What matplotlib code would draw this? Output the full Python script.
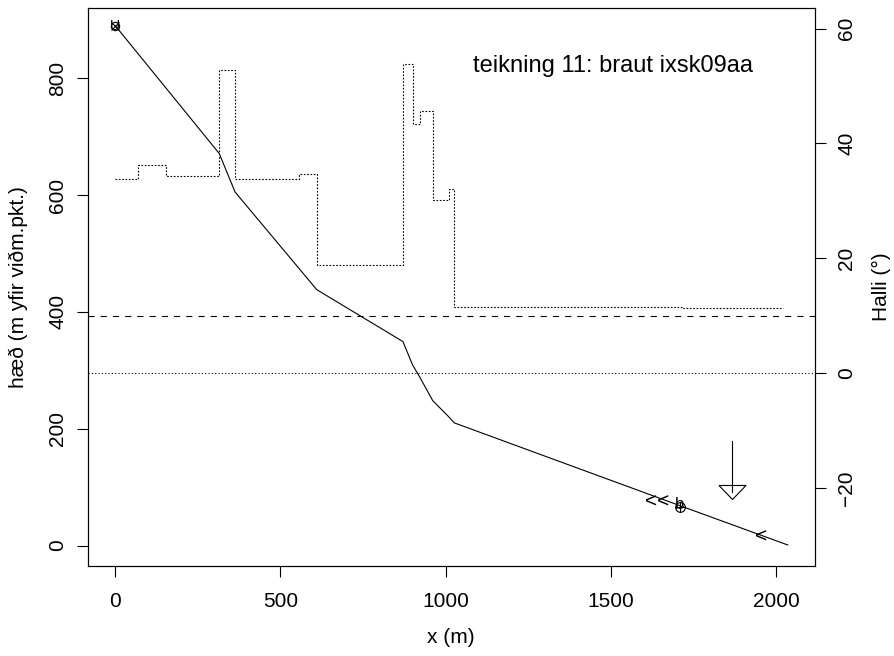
import matplotlib
matplotlib.use('Agg')
import matplotlib.pyplot as plt

plt.rcParams['font.family'] = ['Liberation Sans', 'DejaVu Sans']
plt.rcParams['font.size'] = 15

# elevation profile of the path (x in m, height in m)
dist = [0, 315, 363, 610, 871, 900, 921, 961, 1010, 1026, 1715, 2035]
elev = [890, 671, 605, 438, 349, 309, 289, 248, 220, 210, 67, 1]

# slope angle, stepwise (degrees)
slope_x = [0, 70, 155, 315, 363, 555, 610, 871, 900, 921, 961, 1010, 1026, 1715, 2021]
slope_deg = [33.8, 36.3, 34.3, 52.8, 33.9, 34.7, 18.8, 53.8, 43.4, 45.6, 30.1, 32.0,
             11.6, 11.4, 11.4]

ref_angles = [10, 0]          # dashed, dotted
x_ticks = [0, 500, 1000, 1500, 2000]
h_ticks = [0, 200, 400, 600, 800]
a_ticks = [-20, 0, 20, 40, 60]

title = "teikning 11: braut ixsk09aa"
title_pos = (1507, 820)
start_pt = (0, 890)
beta_pt = (1709, 66)
arrows2_pt = (1640, 75)
arrow1_pt = (1955, 15)
runout_x = 1866
runout_top = 179
runout_mid = 92

fig = plt.figure(figsize=(8.94, 6.56), dpi=100)
ax = fig.add_axes([88 / 894, (656 - 566) / 656, (814.5 - 88) / 894, (566 - 8) / 656])
ax2 = ax.twinx()

ax.plot(dist, elev, color='black', lw=0.8)
ax2.step(slope_x, slope_deg, where='post', color='black', lw=0.8, linestyle=(0, (1.5, 1.5)))
ax2.axhline(ref_angles[0], color='black', lw=0.8, linestyle=(0, (5.5, 5.5)))
ax2.axhline(ref_angles[1], color='black', lw=0.8, linestyle=(0, (1, 2)))

# start marker
ax.plot(*start_pt, marker='o', mfc='none', mec='black', ms=6, mew=0.8)
ax.plot(*start_pt, marker='x', color='black', ms=6, mew=0.8)
ax.text(start_pt[0], start_pt[1], 'U', ha='center', va='center', fontsize=10)

# beta point and arrows
ax.text(beta_pt[0], beta_pt[1] + 4, 'b', ha='center', va='center', fontsize=12)
ax.plot(*beta_pt, marker='o', mfc='none', mec='black', ms=7, mew=0.8)
ax.plot(*beta_pt, marker='+', color='black', ms=7, mew=0.8)
ax.text(arrows2_pt[0], arrows2_pt[1], '<<', ha='center', va='center', fontsize=15)
ax.text(arrow1_pt[0], arrow1_pt[1], '<', ha='center', va='center', fontsize=15)

# run-out arrow
ax.plot([runout_x, runout_x], [runout_top, runout_mid], color='black', lw=0.8)
tri = [(-1, 0.52), (1, 0.52), (0, -0.52), (-1, 0.52)]
ax.plot(runout_x, runout_mid, marker=tri, mfc='none', mec='black', ms=19.4, mew=0.8)

ax.text(*title_pos, title, ha='center', va='center', fontsize=17)

ax.set_xlim(-82, 2116)
ax.set_ylim(-35, 920)
ax2.set_ylim(-33.6, 63.6)

ax.set_xticks(x_ticks)
ax.set_yticks(h_ticks)
ax2.set_yticks(a_ticks)

for a in (ax, ax2):
    for s in a.spines.values():
        s.set_linewidth(0.8)
    a.tick_params(length=8, width=0.8, direction='out')
ax.tick_params(axis='x', pad=10.5)
ax.tick_params(axis='y', pad=7)
ax2.tick_params(axis='y', pad=8.5)

for lab in ax.get_yticklabels():
    lab.set_rotation(90)
    lab.set_va('center')
for lab in ax2.get_yticklabels():
    lab.set_rotation(90)
    lab.set_va('center')

ax.set_xlabel('x (m)', labelpad=12.5)
ax.set_ylabel('hæð (m yfir viðm.pkt.)', labelpad=14.5)
ax2.set_ylabel('Halli (°)', labelpad=11)

fig.savefig('out.png', dpi=100)
